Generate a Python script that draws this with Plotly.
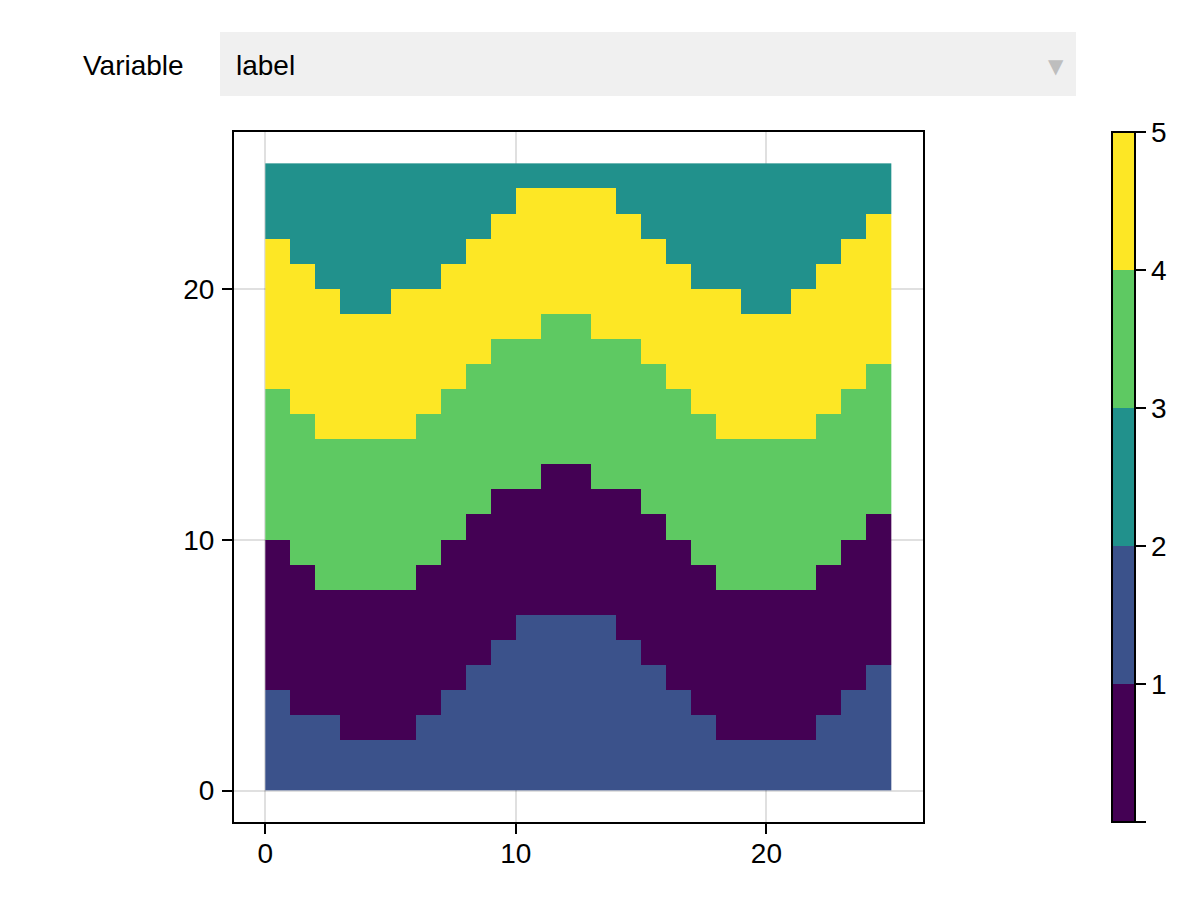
import plotly.graph_objects as go


# ==========================================================
# DATA  (top row of each band, per column 0..24)
# ==========================================================

columns = list(range(25))

blue_top = [4, 3, 3, 2, 2, 2, 3, 4, 5, 6, 7, 7, 7, 7, 6, 5, 4, 3, 2, 2, 2, 2, 3, 4, 5]
purple_top = [10, 9, 8, 8, 8, 8, 9, 10, 11, 12, 12, 13, 13, 12, 12, 11, 10, 9, 8, 8, 8, 8, 9, 10, 11]
green_top = [16, 15, 14, 14, 14, 14, 15, 16, 17, 18, 18, 19, 19, 18, 18, 17, 16, 15, 14, 14, 14, 14, 15, 16, 17]
yellow_top = [22, 21, 20, 19, 19, 20, 20, 21, 22, 23, 24, 24, 24, 24, 23, 22, 21, 20, 20, 19, 19, 20, 21, 22, 23]
grid_top = 25

# label value of each band (colorbar bins 0-1, 1-2, ...)
band_labels = [1, 0, 3, 4, 2]     # blue, purple, green, yellow, teal

colorbar_ticks = [0, 1, 2, 3, 4, 5]
colorbar_text = ["", "1", "2", "3", "4", "5"]
axis_ticks = [0, 10, 20]

viridis5 = ["#440154", "#3b528b", "#21918c", "#5ec962", "#fde725"]

FONT = "Liberation Sans, Arial, sans-serif"
FS = 28
W, H = 1200, 900
OFF = 8   # page body margin, screen px -> figure px


def px(x):
    return (x - OFF) / W


def py(y):
    return 1 - (y - OFF) / H


# ----------------------------------------------------------
# build label grid
# ----------------------------------------------------------

z = []
for row in range(grid_top):
    line = []
    for c in columns:
        tops = [blue_top[c], purple_top[c], green_top[c], yellow_top[c], grid_top]
        for lab, top in zip(band_labels, tops):
            if row < top:
                line.append(lab + 0.5)
                break
    z.append(line)

scale = []
for i, col in enumerate(viridis5):
    scale.append([i / 5, col])
    scale.append([(i + 1) / 5, col])


# ==========================================================
# FIGURE
# ==========================================================

fig = go.Figure()

fig.add_trace(
    go.Heatmap(
        z=z,
        x0=0.5, dx=1,
        y0=0.5, dy=1,
        zmin=0, zmax=5,
        colorscale=scale,
        colorbar=dict(
            x=px(1112), xanchor="left", xpad=0,
            y=py(132), yanchor="top", ypad=0,
            len=690, lenmode="pixels",
            thickness=23,
            outlinecolor="black", outlinewidth=2,
            tickmode="array",
            tickvals=colorbar_ticks,
            ticktext=colorbar_text,
            ticks="outside", ticklen=10, tickwidth=2, tickcolor="black",
            tickfont=dict(family=FONT, size=FS, color="black"),
        ),
    )
)

axis_style = dict(
    range=[-1.25, 26.25],
    tickmode="array",
    tickvals=axis_ticks,
    ticks="outside", ticklen=10, tickwidth=2, tickcolor="black",
    showline=True, linecolor="black", linewidth=2, mirror=True,
    showgrid=True, gridcolor="rgba(0,0,0,0.12)", gridwidth=2,
    zeroline=False,
    tickfont=dict(family=FONT, size=FS, color="black"),
)

fig.update_xaxes(domain=[px(234), px(923)], ticklabelstandoff=-5, **axis_style)
fig.update_yaxes(domain=[py(822), py(132)], ticklabelstandoff=2, **axis_style)


# ----------------------------------------------------------
# menu ("Variable" dropdown look)
# ----------------------------------------------------------

fig.add_shape(
    type="rect", xref="paper", yref="paper",
    x0=px(220), x1=px(1076), y0=py(96), y1=py(32),
    fillcolor="rgb(240,240,240)", line_width=0, layer="below",
)

fig.add_annotation(
    x=px(81), y=py(65), xref="paper", yref="paper",
    xanchor="left", yanchor="middle", showarrow=False,
    text="Variable", font=dict(family=FONT, size=FS, color="black"),
)
fig.add_annotation(
    x=px(234), y=py(65), xref="paper", yref="paper",
    xanchor="left", yanchor="middle", showarrow=False,
    text="label", font=dict(family=FONT, size=FS, color="black"),
)
fig.add_annotation(
    x=px(1056), y=py(66), xref="paper", yref="paper",
    xanchor="center", yanchor="middle", showarrow=False,
    text="▼", font=dict(family="DejaVu Sans", size=20, color="rgb(190,190,190)"),
)


# ==========================================================
# LAYOUT
# ==========================================================

fig.update_layout(
    width=W, height=H,
    margin=dict(l=0, r=0, t=0, b=0),
    paper_bgcolor="white",
    plot_bgcolor="white",
    showlegend=False,
    font=dict(family=FONT, color="black"),
)

fig.write_html("out.html")
